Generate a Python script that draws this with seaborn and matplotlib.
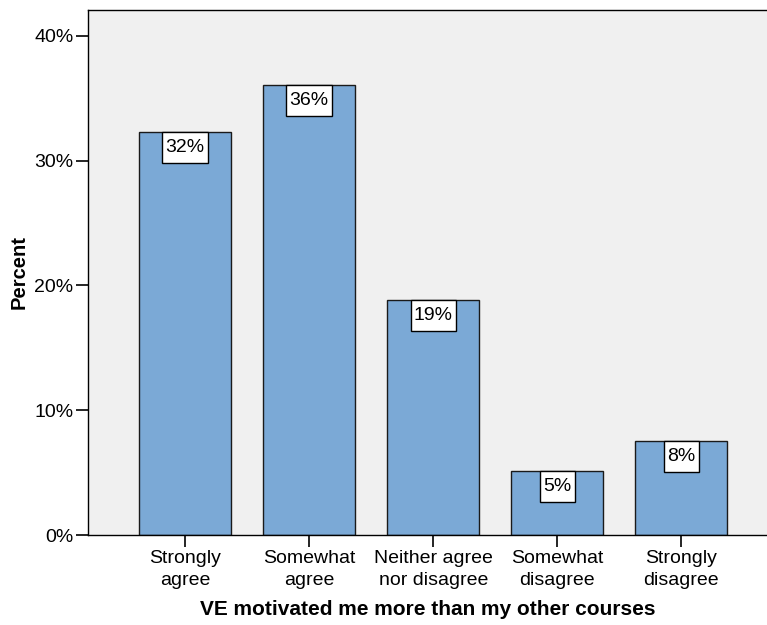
import numpy as np
import pandas as pd
import seaborn as sns
import matplotlib.pyplot as plt
from matplotlib.path import Path

# data
categories = ["Strongly\nagree", "Somewhat\nagree", "Neither agree\nnor disagree",
              "Somewhat\ndisagree", "Strongly\ndisagree"]
percents = [32.3, 36.1, 18.8, 5.1, 7.5]
bar_labels = ["32%", "36%", "19%", "5%", "8%"]
y_ticks = [0, 10, 20, 30, 40]
y_tick_labels = ["0%", "10%", "20%", "30%", "40%"]

df = pd.DataFrame({"answer": categories, "percent": percents})

plt.rcParams["font.family"] = ["Liberation Sans", "DejaVu Sans"]


# label box: a little padding left/right, more above/below (SPSS style)
def label_box(x0, y0, width, height, mutation_size):
    px = 0.16 * mutation_size
    py = 0.36 * mutation_size
    x0, y0 = x0 - px, y0 - py
    x1, y1 = x0 + width + 2 * px, y0 + height + 2 * py
    return Path([(x0, y0), (x1, y0), (x1, y1), (x0, y1), (x0, y0)],
                closed=True)


fig = plt.figure(figsize=(7.67, 6.25), dpi=100)
ax = fig.add_axes([0.1147, 0.144, 0.8853, 0.8405])
ax.set_facecolor("#f0f0f0")

sns.barplot(
    data=df,
    x="answer",
    y="percent",
    color="#7ba9d6",
    saturation=1,
    width=0.74,
    edgecolor="#1a1a1a",
    linewidth=1.0,
    ax=ax
)

# value labels in white boxes hanging from the bar tops
for i, (v, lab) in enumerate(zip(percents, bar_labels)):
    ax.annotate(
        lab, xy=(i, v), xytext=(0, -11.2), textcoords="offset points",
        ha="center", va="center", fontsize=14,
        bbox=dict(boxstyle=label_box, facecolor="white",
                  edgecolor="black", linewidth=1.0)
    )

ax.set_xlim(-0.782, 4.69)
ax.set_ylim(0, 42.1)
ax.set_yticks(y_ticks)
ax.set_yticklabels(y_tick_labels)

ax.spines["right"].set_visible(False)
for s in ["left", "bottom", "top"]:
    ax.spines[s].set_linewidth(1.0)
    ax.spines[s].set_color("black")

ax.tick_params(axis="both", direction="out", length=8.5, width=1.2,
               labelsize=14, pad=2)
for t in ax.get_xticklabels():
    t.set_linespacing(1.4)

ax.set_xlabel("VE motivated me more than my other courses",
              fontsize=15, fontweight="bold", labelpad=8)
ax.set_ylabel("Percent", fontsize=14.5, fontweight="bold", labelpad=4)

plt.savefig("out.png", dpi=100)
